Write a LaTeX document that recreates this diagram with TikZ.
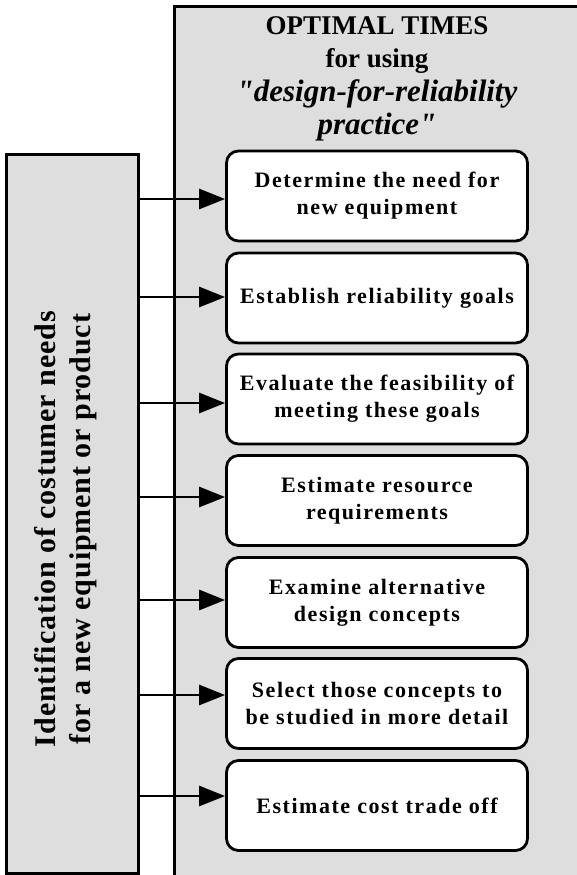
\documentclass[tikz,border=0pt]{standalone}
\usepackage{fontspec}
\setmainfont{Liberation Serif}
\usetikzlibrary{arrows.meta}
\definecolor{panelgray}{RGB}{222,222,222}
\newcommand{\emphline}[1]{{\fontsize{31}{34}\selectfont\itshape #1}}

\begin{document}
\begin{tikzpicture}[x=1pt,y=-1pt,
  panel/.style={draw, line width=3pt, fill=panelgray, inner sep=0pt},
  stepbox/.style={draw, line width=2.8pt, fill=white, rounded corners=12pt,
    minimum width=301pt, minimum height=90pt, inner sep=0pt, align=center,
    font=\bfseries\fontsize{22}{27}\selectfont\addfontfeature{LetterSpace=7}},
  headline/.style={anchor=north, inner sep=0pt, align=center,
    font=\bfseries\fontsize{27}{33.5}\selectfont\addfontfeature{Ligatures=TeXOff}},
  sidetext/.style={rotate=90, inner sep=0pt, align=center,
    font=\bfseries\fontsize{30}{35}\selectfont\addfontfeature{LetterSpace=3}},
  link/.style={line width=2.7pt, -{Triangle[length=26pt,width=20pt]}}]

\useasboundingbox (0,0) rectangle (577,875);

% outer panel, running past the right and bottom edges
\begin{scope}
  \clip (0,0) rectangle (577,875);
  \node[panel, anchor=north west, minimum width=420pt, minimum height=890pt]
    (frame) at (173,5) {};
\end{scope}

\node[headline] (head) at (377,16)
  {OPTIMAL TIMES\\for using\\\emphline{"design-for-reliability}\\\emphline{practice"}};

% left panel with rotated caption
\node[panel, minimum width=132pt, minimum height=719pt] (idbox) at (72,513.5) {};
\node[sidetext] (idtext) at (66,529)
  {Identification of costumer needs\\for a new equipment or product};

% the seven steps
\node[stepbox] (b1) at (377,196)   {Determine the need for\\new equipment};
\node[stepbox] (b2) at (377,298)   {Establish reliability goals};
\node[stepbox] (b3) at (377,399)   {Evaluate the feasibility of\\meeting these goals};
\node[stepbox] (b4) at (377,500.5) {Estimate resource\\requirements};
\node[stepbox] (b5) at (377,602.5) {Examine alternative\\design concepts};
\node[stepbox] (b6) at (377,703.5) {Select those concepts to\\be studied in more detail};
\node[stepbox] (b7) at (377,805.5) {Estimate cost trade off};

% arrow targets on the left side of each step
\coordinate (t1) at ([yshift=-3pt]b1.west);
\coordinate (t2) at ([yshift=1pt]b2.west);
\coordinate (t3) at ([yshift=-4pt]b3.west);
\coordinate (t4) at ([yshift=3.5pt]b4.west);
\coordinate (t5) at ([yshift=2.5pt]b5.west);
\coordinate (t6) at ([yshift=8.5pt]b6.west);
\coordinate (t7) at ([yshift=9.5pt]b7.west);

\foreach \k in {1,...,7}
  \draw[link] (idbox.east |- t\k) -- (t\k);

\end{tikzpicture}
\end{document}
